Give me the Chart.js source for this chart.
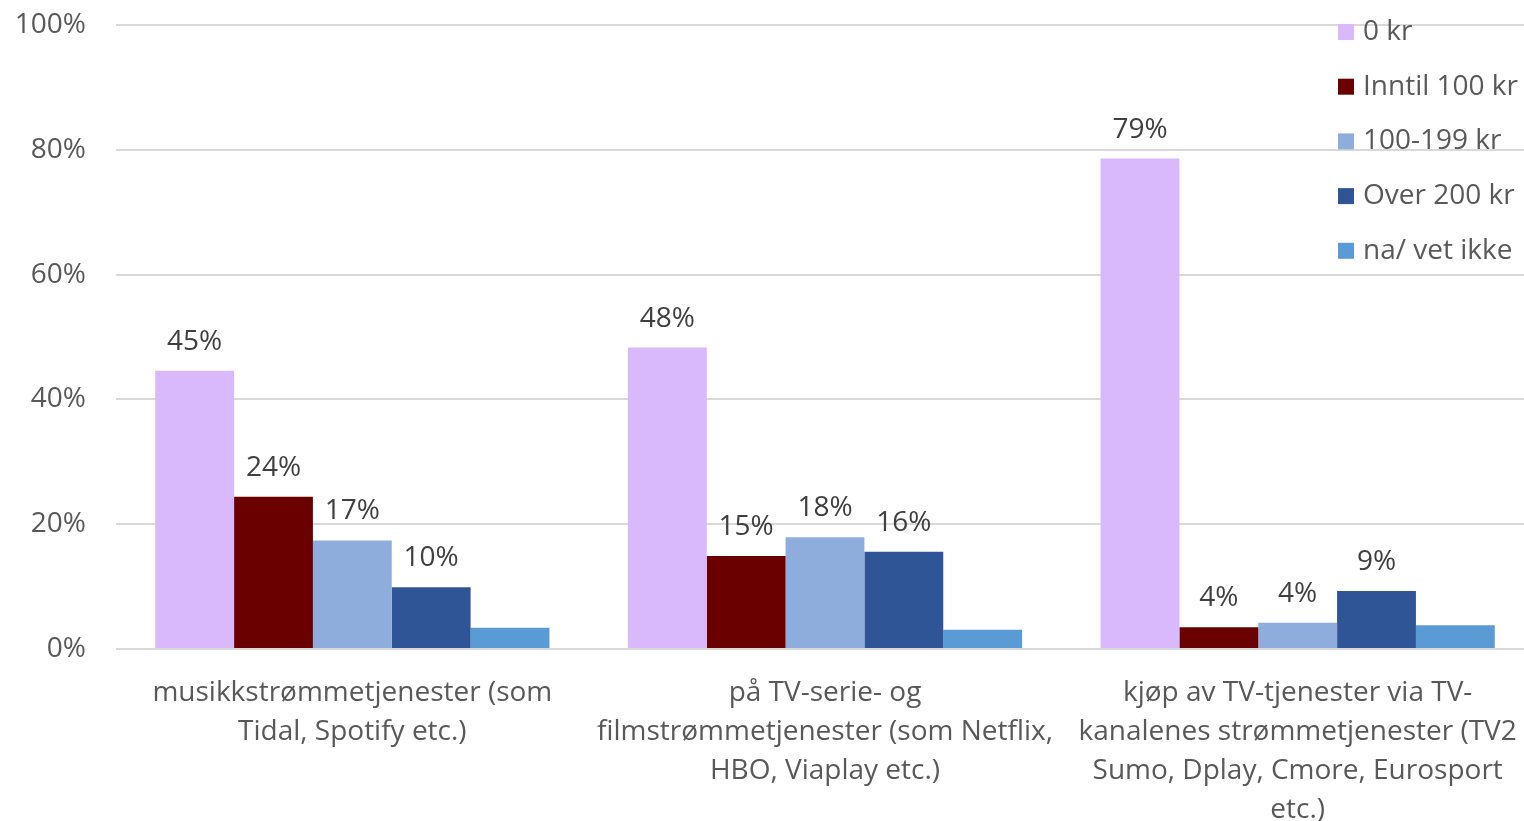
<!DOCTYPE html>
<html>
<head>
<meta charset="utf-8">
<script src="https://cdn.jsdelivr.net/npm/chart.js@4/dist/chart.umd.min.js"></script>
<style>
  html, body { margin: 0; padding: 0; background: #fff; overflow: hidden; }
  #wrap { position: relative; width: 1534px; height: 821px; }
</style>
</head>
<body>
<div id="wrap"><canvas id="chart"></canvas></div>
<script>
// ── Dati ─────────────────────────────────────────────
var categories = [
    ['musikkstrømmetjenester (som', 'Tidal, Spotify etc.)'],
    ['på TV-serie- og', 'filmstrømmetjenester (som Netflix,', 'HBO, Viaplay etc.)'],
    ['kjøp av TV-tjenester via TV-', 'kanalenes strømmetjenester (TV2', 'Sumo, Dplay, Cmore, Eurosport', 'etc.)']
];
var seriesNames = ['0 kr', 'Inntil 100 kr', '100-199 kr', 'Over 200 kr', 'na/ vet ikke'];
var kr0 = [44.6, 48.3, 78.6];
var under100 = [24.4, 14.9, 3.5];
var kr100to199 = [17.4, 17.9, 4.2];
var over200 = [9.9, 15.6, 9.3];
var vetIkke = [3.4, 3.1, 3.8];
var yTicks = [0, 20, 40, 60, 80, 100];

var colors = ['#dab8fc', '#6b0000', '#8faddc', '#2f5597', '#5b9bd5'];
var FONT = '"Open Sans", sans-serif';

// etichette sopra le barre (solo le prime 4 serie)
var valueLabels = {
    id: 'valueLabels',
    afterDatasetsDraw: function (chart) {
        var ctx = chart.ctx;
        ctx.save();
        ctx.font = '28px ' + FONT;
        ctx.fillStyle = '#404040';
        ctx.textAlign = 'center';
        ctx.textBaseline = 'middle';
        chart.data.datasets.forEach(function (ds, i) {
            if (i > 3) return;
            chart.getDatasetMeta(i).data.forEach(function (bar, j) {
                ctx.fillText(Math.round(ds.data[j]) + '%', bar.x, bar.y - 29);
            });
        });
        ctx.restore();
    }
};

// legenda dentro l'area del grafico, in alto a destra
var cornerLegend = {
    id: 'cornerLegend',
    afterDraw: function (chart) {
        var ctx = chart.ctx;
        ctx.save();
        ctx.font = '28px ' + FONT;
        ctx.textAlign = 'left';
        ctx.textBaseline = 'middle';
        seriesNames.forEach(function (name, i) {
            var y = 32 + i * 54.7;
            ctx.fillStyle = colors[i];
            ctx.fillRect(1338, y - 8, 16, 16);
            ctx.fillStyle = '#595959';
            ctx.fillText(name, 1363, y);
        });
        ctx.restore();
    }
};

var seriesData = [kr0, under100, kr100to199, over200, vetIkke];

new Chart(document.getElementById('chart'), {
    type: 'bar',
    data: {
        labels: categories,
        datasets: seriesNames.map(function (name, i) {
            return {
                label: name,
                data: seriesData[i],
                backgroundColor: colors[i],
                categoryPercentage: 0.834,
                barPercentage: 1
            };
        })
    },
    options: {
        responsive: true,
        maintainAspectRatio: false,
        animation: false,
        layout: { padding: { top: 25, right: 0, left: 0, bottom: 0 } },
        plugins: {
            legend: { display: false },
            tooltip: { enabled: false }
        },
        scales: {
            x: {
                grid: { display: false },
                border: { display: false },
                afterFit: function (axis) {
                    axis.paddingLeft = 0;
                    axis.paddingRight = 0;
                    axis.height = 172;
                },
                ticks: {
                    color: '#595959',
                    font: { family: FONT, size: 28, lineHeight: 1.393 },
                    maxRotation: 0,
                    autoSkip: false,
                    padding: 17
                }
            },
            y: {
                min: 0,
                max: 100,
                afterBuildTicks: function (axis) {
                    axis.ticks = yTicks.map(function (v) { return { value: v }; });
                },
                afterFit: function (axis) {
                    axis.paddingTop = 0;
                    axis.paddingBottom = 0;
                    axis.width = 116;
                },
                grid: { color: '#d9d9d9', lineWidth: 2, drawTicks: false },
                border: { display: false },
                ticks: {
                    color: '#595959',
                    font: { family: FONT, size: 28 },
                    padding: 30,
                    callback: function (v) { return v + '%'; }
                }
            }
        }
    },
    plugins: [valueLabels, cornerLegend]
});
</script>
</body>
</html>
